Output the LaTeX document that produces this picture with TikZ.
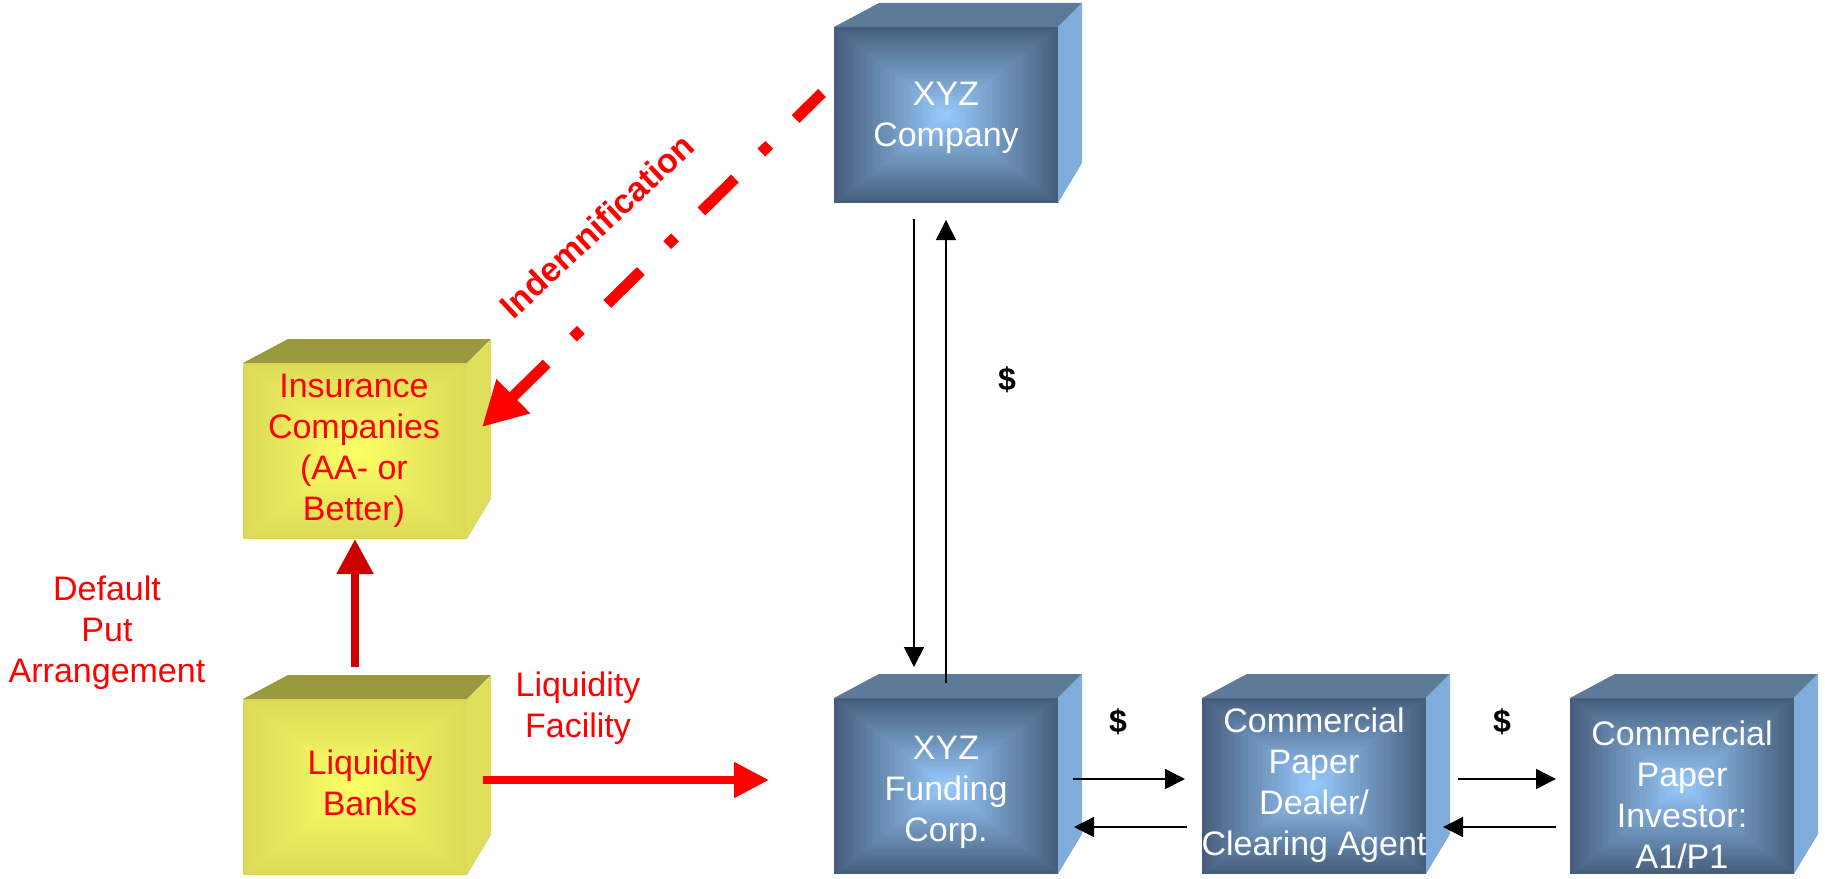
\documentclass[tikz,border=0pt]{standalone}
\usepackage{fontspec}
\setmainfont{Liberation Sans}
\usetikzlibrary{calc,arrows.meta}

\definecolor{blueedge}{RGB}{70,94,124}
\definecolor{bluecentre}{RGB}{153,204,255}
\definecolor{bluetop}{RGB}{93,122,153}
\definecolor{blueside}{RGB}{128,174,220}
\definecolor{yellowedge}{RGB}{218,218,88}
\definecolor{yellowcentre}{RGB}{255,255,102}
\definecolor{yellowtop}{RGB}{153,153,61}
\definecolor{yellowside}{RGB}{222,222,92}
\definecolor{darkred}{RGB}{204,0,0}
\definecolor{brightred}{RGB}{255,0,0}

% framed (rectangular) gradient: nested rectangles from edge colour to centre colour
\newcommand\bevelfill[2]{%
  \foreach \bvk in {0,...,31}{%
    \pgfmathtruncatemacro\bvpct{100-100*\bvk/32}%
    \pgfmathsetmacro\bvscale{1-\bvk/32}%
    \fill[#1!\bvpct!#2]
      ($(path picture bounding box.center)!\bvscale!(path picture bounding box.south west)$)
      rectangle
      ($(path picture bounding box.center)!\bvscale!(path picture bounding box.north east)$);
  }}

\tikzset{
  cube/.style={minimum width=224bp, minimum height=176bp, inner sep=0pt, outer sep=0pt},
  bluecube/.style={cube, path picture={\bevelfill{blueedge}{bluecentre}}},
  yellowcube/.style={cube, path picture={\bevelfill{yellowedge}{yellowcentre}}},
  boxtext/.style={align=center, font=\fontsize{34bp}{41bp}\selectfont, inner sep=0pt},
  whitetext/.style={boxtext, text=white},
  redtext/.style={boxtext, text=brightred},
  moneytext/.style={font=\fontsize{32bp}{38bp}\selectfont\bfseries, inner sep=0pt},
  flowarrow/.style={line width=1.5bp, -{Triangle[length=20bp,width=20bp]}},
  putarrow/.style={darkred, line width=8bp, -{Triangle[length=35bp,width=35bp]}},
  facilityarrow/.style={brightred, line width=8bp, -{Triangle[length=35bp,width=34bp]}},
  indemarrow/.style={brightred, line width=11bp,
    dash pattern=on 47bp off 37bp on 11bp off 37bp, dash phase=10bp,
    -{Triangle[length=44bp,width=45bp]}},
}

\begin{document}
\begin{tikzpicture}[x=1bp,y=-1bp]
\useasboundingbox (0,0) rectangle (1825,879);

% front faces of the boxes
\node[bluecube]   (company)   at (946,115)  {};
\node[bluecube]   (funding)   at (946,786)  {};
\node[bluecube]   (dealer)    at (1314,786) {};
\node[bluecube]   (investor)  at (1682,786) {};
\node[yellowcube] (insurance) at (355,451)  {};
\node[yellowcube] (banks)     at (355,787)  {};

% top and right faces
\foreach \n/\tc/\sc in {company/bluetop/blueside, funding/bluetop/blueside,
    dealer/bluetop/blueside, investor/bluetop/blueside,
    insurance/yellowtop/yellowside, banks/yellowtop/yellowside}{
  \fill[\tc] (\n.north west) -- ++(45,-24) -- ($(\n.north east)+(24,-24)$)
             -- (\n.north east) -- cycle;
  \fill[\sc] (\n.north east) -- ++(24,-24) -- ($(\n.south east)+(24,-40)$)
             -- (\n.south east) -- cycle;
}

% box captions
\node[whitetext] (company-text)   at (946,118)  {XYZ\\Company};
\node[whitetext] (funding-text)   at (946,792)  {XYZ\\Funding\\Corp.};
\node[whitetext] (dealer-text)    at (1314,785) {Commercial\\Paper\\Dealer/\\Clearing Agent};
\node[whitetext] (investor-text)  at (1682,795) {Commercial\\Paper\\Investor:\\A1/P1};
\node[redtext]   (insurance-text) at (354,451)  {Insurance\\Companies\\(AA- or\\Better)};
\node[redtext]   (banks-text)     at (370,783)  {Liquidity\\Banks};

% money flows
\draw[flowarrow] ($(company.south)+(-32,16)$) -- ($(funding.north)+(-32,-31)$);
\draw[flowarrow] ($(funding.north)+(0,-15)$) -- ($(company.south)+(0,17)$);
\draw[flowarrow] ($(funding.east)+(15,-7)$) -- ($(dealer.west)+(-17,-7)$);
\draw[flowarrow] ($(dealer.west)+(-15,41)$) -- ($(funding.east)+(16,41)$);
\draw[flowarrow] ($(dealer.east)+(32,-7)$) -- ($(investor.west)+(-14,-7)$);
\draw[flowarrow] ($(investor.west)+(-14,41)$) -- ($(dealer.east)+(17,41)$);

\node[moneytext] (usd1) at (1007,380) {\$};
\node[moneytext] (usd2) at (1118,722) {\$};
\node[moneytext] (usd3) at (1502,722) {\$};

% credit support
\draw[putarrow] ($(banks.north)+(0,-32)$) -- (insurance.south);
\draw[facilityarrow] ($(banks.east)+(16,-7)$) -- ($(funding.west)+(-65,-6)$);
\draw[indemarrow] ($(company.west)+(-12,-22)$) -- ($(insurance.east)+(15,-24)$);

\node[redtext] (put-label) at (107,633) {Default\\Put\\Arrangement};
\node[redtext] (facility-label) at (578,708) {Liquidity\\Facility};
\node[boxtext, text=brightred, font=\fontsize{34bp}{41bp}\selectfont\bfseries, rotate=43]
  (indem-label) at (597,226) {Indemnification};
\end{tikzpicture}
\end{document}
